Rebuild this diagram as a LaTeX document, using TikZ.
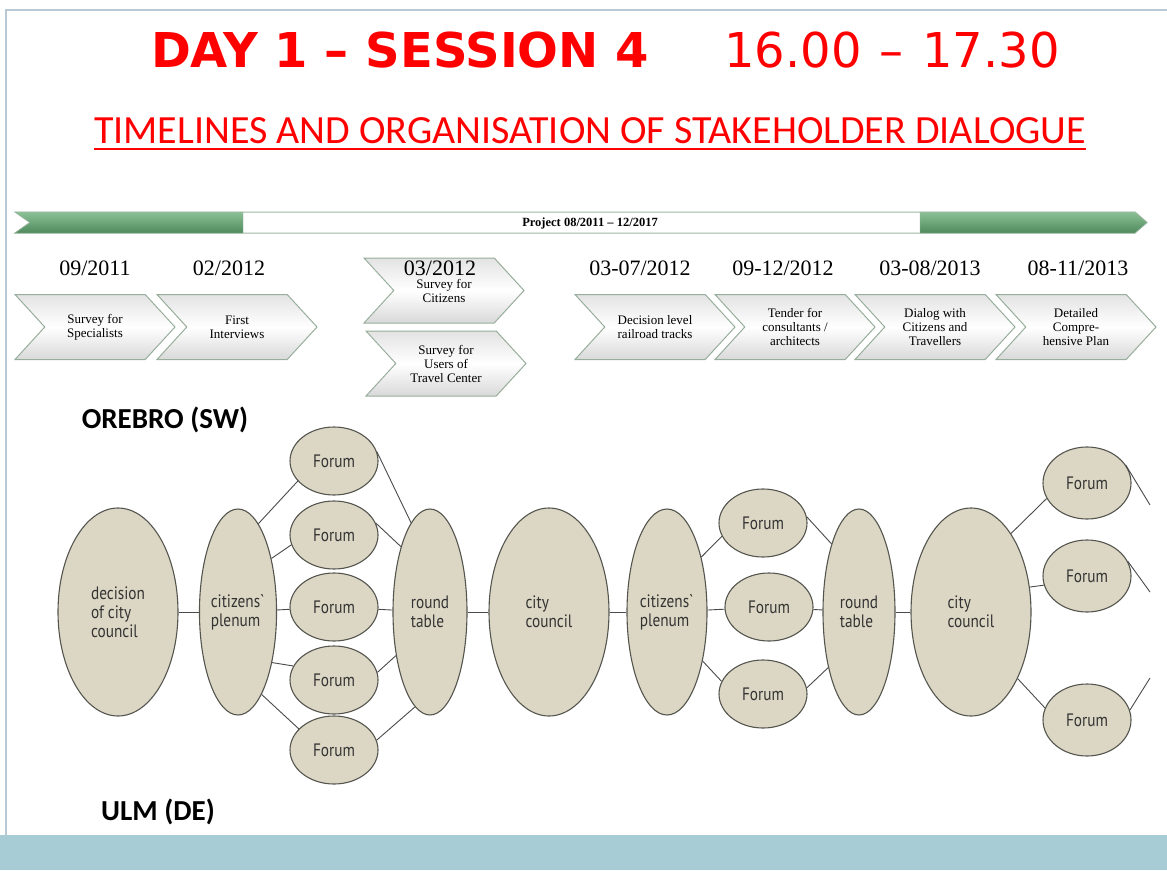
\documentclass[tikz,border=0pt]{standalone}
\usepackage{fontspec}
\setmainfont{Liberation Serif}
\newfontfamily\calibri{Carlito}
\newfontfamily\titlefont{DejaVu Sans}
\newfontfamily\ovalfont[FakeStretch=0.85]{PT Sans}
\usetikzlibrary{shapes.geometric,shapes.symbols}
\definecolor{beige}{HTML}{DCD7C4}
\definecolor{ovalline}{HTML}{55554F}
\definecolor{ovaltext}{HTML}{333333}
\definecolor{linkgray}{HTML}{4A4A4A}
\definecolor{bargreen}{HTML}{4F8A5C}
\definecolor{barlight}{HTML}{8CC096}
\definecolor{barline}{HTML}{9DB8A2}
\definecolor{chevline}{HTML}{98AE9C}
\definecolor{framecol}{HTML}{B7C9D6}
\definecolor{bandcol}{HTML}{A8CCD5}

\begin{document}
\begin{tikzpicture}[x=1pt,y=-1pt,
  oval/.style={ellipse,draw=ovalline,fill=beige,line width=1.1pt,inner sep=0pt,
    font=\ovalfont\fontsize{18}{19}\selectfont,text=ovaltext,align=left},
  forum/.style={oval,minimum width=88pt,minimum height=68pt},
  slim/.style={oval,minimum width=74pt,minimum height=206pt},
  wide/.style={oval,minimum width=120pt,minimum height=208pt},
  link/.style={draw=linkgray,line width=0.9pt},
  phase/.style={signal,signal to=east,signal from=west,signal pointer angle=95,
    minimum width=160pt,minimum height=65pt,inner sep=0pt,draw=chevline,line width=1pt,
    top color=gray!22,bottom color=gray!30,middle color=white,
    font=\fontsize{13}{14}\selectfont,align=center},
  date/.style={font=\fontsize{22}{22}\selectfont}]
  \useasboundingbox (0,0) rectangle (1167,870);
  \fill[bandcol] (0,835) rectangle (1167,870);
  \draw[framecol,line width=1.2pt] (1167,10) -- (6,10) -- (6,835);

  \node[font=\titlefont\bfseries\fontsize{48}{48}\selectfont,text=red] (day) at (400,50) {DAY 1 – SESSION 4};
  \node[font=\titlefont\fontsize{48}{48}\selectfont,text=red] (time) at (892,50) {16.00\hspace{3pt} – \hspace{3pt}17.30};
  \node[font=\calibri\fontsize{40}{40}\selectfont,text=red,inner sep=0pt] (subtitle) at (590,131) {TIMELINES AND ORGANISATION OF STAKEHOLDER DIALOGUE};
  \draw[red,line width=2pt] ([yshift=-5pt]subtitle.base west) -- ([yshift=-5pt]subtitle.base east);

  \draw[barline,fill=white,line width=1pt] (15,212) -- (1135,212) -- (1147,222.5) -- (1135,233) -- (15,233) -- (30,222.5) -- cycle;
  \shade[top color=barlight,bottom color=bargreen,draw=barline] (15,212) -- (243,212) -- (243,233) -- (15,233) -- (30,222.5) -- cycle;
  \shade[top color=barlight,bottom color=bargreen,draw=barline] (920,212) -- (1135,212) -- (1147,222.5) -- (1135,233) -- (920,233) -- cycle;
  \node[font=\bfseries\fontsize{12.5}{13}\selectfont] (project) at (590,223) {Project 08/2011 – 12/2017};

  \node[phase] (p1) at (95,327) {Survey for\\Specialists};
  \node[phase] (p2) at (237,327) {First\\Interviews};
  \node[phase] (p3) at (444,290.5) {Survey for\\Citizens};
  \node[phase] (p4) at (446,363.5) {Survey for\\Users of\\Travel Center};
  \node[phase] (p5) at (655,327) {Decision level\\railroad tracks};
  \node[phase] (p6) at (795,327) {Tender for\\consultants /\\architects};
  \node[phase] (p7) at (935,327) {Dialog with\\Citizens and\\Travellers};
  \node[phase] (p8) at (1076,327) {Detailed\\Compre-\\hensive Plan};

  \node[date] (d1) at (95,268) {09/2011};
  \node[date] (d2) at (229,268) {02/2012};
  \node[date] (d3) at (440,268) {03/2012};
  \node[date] (d4) at (640,268) {03-07/2012};
  \node[date] (d5) at (783,268) {09-12/2012};
  \node[date] (d6) at (930,268) {03-08/2013};
  \node[date] (d7) at (1078,268) {08-11/2013};

  \node[font=\calibri\bfseries\fontsize{29}{29}\selectfont] (orebro) at (165,420) {OREBRO (SW)};
  \node[font=\calibri\bfseries\fontsize{29}{29}\selectfont] (ulm) at (158,812) {ULM (DE)};

  \node[wide] (dec) at (118,612) {decision\\of city\\council};
  \node[slim] (cp1) at (238,612) {citizens\textasciigrave\\plenum};
  \node[forum] (f11) at (334,461) {Forum};
  \node[forum] (f12) at (334,535) {Forum};
  \node[forum] (f13) at (334,607) {Forum};
  \node[forum] (f14) at (334,680) {Forum};
  \node[forum] (f15) at (334,750) {Forum};
  \node[slim] (rt1) at (430,612) {round\\table};
  \node[wide] (cc1) at (549,612) {city\\council};
  \node[slim,minimum width=80pt] (cp2) at (667,612) {citizens\textasciigrave\\plenum};
  \node[forum] (f21) at (763,523) {Forum};
  \node[forum] (f22) at (769,607) {Forum};
  \node[forum] (f23) at (763,694) {Forum};
  \node[slim,minimum width=72pt] (rt2) at (859,612) {round\\table};
  \node[wide] (cc2) at (971,612) {city\\council};
  \node[forum,minimum height=72pt] (f31) at (1087,483) {Forum};
  \node[forum,minimum height=72pt] (f32) at (1087,576) {Forum};
  \node[forum,minimum height=72pt] (f33) at (1087,720) {Forum};
  \coordinate (o1) at (1150,505);
  \coordinate (o2) at (1150,592);
  \coordinate (o3) at (1150,678);

  \draw[link] (dec) -- (cp1);
  \draw[link] (cp1.77) -- (f11.209);
  \draw[link] (cp1.58) -- (f12.193);
  \draw[link] (cp1) -- (f13);
  \draw[link] (cp1.-56) -- (f14.161);
  \draw[link] (cp1.-74) -- (f15.149);
  \draw[link] (f11.12) -- (rt1.102);
  \draw[link] (f12.16) -- (rt1.114);
  \draw[link] (f13) -- (rt1);
  \draw[link] (f14.10) -- (rt1.232);
  \draw[link] (f15.13) -- (rt1.261);
  \draw[link] (rt1) -- (cc1);
  \draw[link] (cc1) -- (cp2);
  \draw[link] (cp2.58) -- (f21.198);
  \draw[link] (cp2) -- (f22);
  \draw[link] (cp2.-54) -- (f23.163);
  \draw[link] (f21.8) -- (rt2.112);
  \draw[link] (f22) -- (rt2);
  \draw[link] (f23.8) -- (rt2.241);
  \draw[link] (rt2) -- (cc2);
  \draw[link] (cc2.63) -- (f31.201);
  \draw[link] (cc2.23) -- (f32.192);
  \draw[link] (cc2.-55) -- (f33.164);
  \draw[link] (f31.25) -- (o1);
  \draw[link] (f32.20) -- (o2);
  \draw[link] (f33.13) -- (o3);
\end{tikzpicture}
\end{document}
